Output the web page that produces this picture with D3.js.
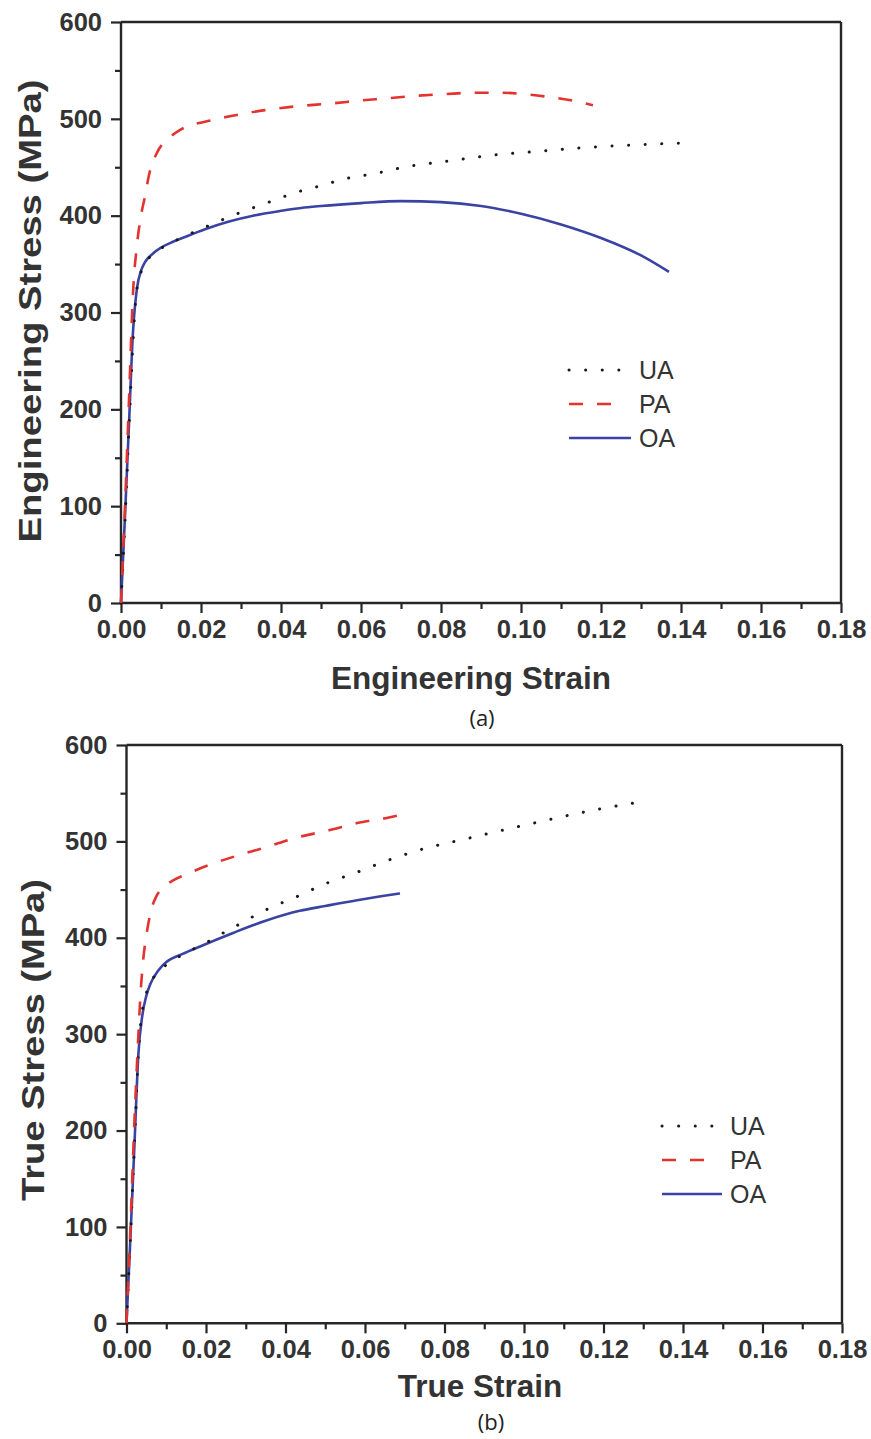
<!DOCTYPE html>
<html>
<head>
<meta charset="utf-8">
<script src="https://cdn.jsdelivr.net/npm/d3@7"></script>
<style>
  html, body { margin: 0; padding: 0; background: #fff; }
  svg { display: block; }
</style>
</head>
<body>
<svg id="chart" width="871" height="1439" font-family="Liberation Sans, Arial, sans-serif"></svg>
<script>
// ---------- DATA ----------
const xTicks = [0, 0.02, 0.04, 0.06, 0.08, 0.10, 0.12, 0.14, 0.16, 0.18];
const yTicks = [0, 100, 200, 300, 400, 500, 600];
const seriesNames = ["UA", "PA", "OA"];

// (a) engineering
const engUAStrain = [0, 0.001, 0.002, 0.003, 0.004, 0.006, 0.01, 0.015, 0.021, 0.026, 0.031, 0.035, 0.039, 0.043, 0.05, 0.056, 0.064, 0.072, 0.081, 0.094, 0.103, 0.115, 0.128, 0.141];
const engUAStress = [0, 85, 180, 270, 325, 350, 366, 377, 388, 397, 405, 411, 417, 423, 431, 438, 444, 451, 456, 463, 466, 470, 473, 475];
const engPAStrain = [0, 0.001, 0.002, 0.003, 0.004, 0.005, 0.006, 0.007, 0.009, 0.012, 0.015, 0.022, 0.029, 0.036, 0.044, 0.053, 0.06, 0.066, 0.073, 0.081, 0.088, 0.095, 0.101, 0.108, 0.114, 0.118];
const engPAStress = [0, 100, 210, 320, 370, 400, 420, 442, 465, 480, 489, 498, 504, 509, 513, 516, 519, 521, 523.5, 525.5, 527, 527, 525.5, 522, 518, 514];
const engOAStrain = [0, 0.001, 0.002, 0.003, 0.004, 0.005, 0.006, 0.008, 0.01, 0.013, 0.016, 0.021, 0.027, 0.033, 0.04, 0.045, 0.05, 0.06, 0.07, 0.08, 0.09, 0.1, 0.11, 0.12, 0.13, 0.137];
const engOAStress = [0, 90, 185, 280, 325, 343, 352, 361, 367, 373, 378, 386, 394, 400, 405, 408, 410, 413, 415, 414, 410, 402, 391, 377, 359, 342];

// (b) true
const trueUAStrain = [0, 0.001, 0.002, 0.003, 0.004, 0.006, 0.01, 0.0139, 0.021, 0.0252, 0.0293, 0.0336, 0.0378, 0.0419, 0.05, 0.058, 0.0662, 0.0745, 0.0858, 0.094, 0.1025, 0.11, 0.1195, 0.128];
const trueUAStress = [0, 90, 185, 280, 325, 352, 372, 382, 397, 407, 416, 426, 434, 441, 456, 468, 481, 492, 503, 511, 519, 526, 534, 540];
const truePAStrain = [0, 0.001, 0.002, 0.003, 0.0035, 0.0042, 0.0051, 0.0063, 0.0075, 0.0092, 0.0115, 0.0151, 0.0218, 0.0285, 0.0352, 0.0419, 0.0514, 0.058, 0.0663, 0.0685];
const truePAStress = [0, 100, 210, 300, 340, 377, 405, 430, 443, 452, 459, 466, 477, 486, 494, 503, 512, 519, 525, 527];
const trueOAStrain = [0, 0.001, 0.002, 0.003, 0.004, 0.005, 0.006, 0.008, 0.0101, 0.014, 0.0185, 0.0268, 0.0352, 0.0436, 0.05, 0.058, 0.064, 0.0688];
const trueOAStress = [0, 90, 185, 280, 320, 340, 352, 366, 375, 383, 391, 405, 418, 428, 433, 439, 443, 446];

// ---------- STYLE ----------
const styles = {
  UA: { color: "#1a1a1a", width: 3, dash: "0.1,16.5", cap: "round" },
  PA: { color: "#e3332f", width: 2.6, dash: "14,14", cap: "butt" },
  OA: { color: "#3a43a3", width: 2.6, dash: null, cap: "butt" }
};

const svg = d3.select("#chart");
svg.append("rect").attr("width", 871).attr("height", 1439).attr("fill", "#fff");

function zip(a, b) { return a.map((v, i) => [v, b[i]]); }

function drawPanel(cfg) {
  const g = svg.append("g");
  const x = d3.scaleLinear().domain([0, 0.18]).range([cfg.left, cfg.right]);
  const y = d3.scaleLinear().domain([0, 600]).range([cfg.bottom, cfg.top]);
  const axisColor = "#262626";
  const labelColor = "#333";

  g.append("line").attr("x1", cfg.left).attr("x2", cfg.right).attr("y1", cfg.top).attr("y2", cfg.top)
    .attr("stroke", axisColor).attr("stroke-width", 2.4);
  g.append("line").attr("x1", cfg.right).attr("x2", cfg.right).attr("y1", cfg.top).attr("y2", cfg.bottom)
    .attr("stroke", axisColor).attr("stroke-width", 2.4);

  const xMinor = d3.range(0.01, 0.18, 0.02);
  const yMinor = d3.range(50, 600, 100);
  const xAxisMinor = d3.axisBottom(x).tickValues(xMinor).tickSize(6).tickFormat("");
  const yAxisMinor = d3.axisLeft(y).tickValues(yMinor).tickSize(6).tickFormat("");
  g.append("g").attr("transform", `translate(0,${cfg.bottom})`).call(xAxisMinor)
    .call(s => s.select(".domain").remove())
    .selectAll("line").attr("stroke", axisColor).attr("stroke-width", 2.2);
  g.append("g").attr("transform", `translate(${cfg.left},0)`).call(yAxisMinor)
    .call(s => s.select(".domain").remove())
    .selectAll("line").attr("stroke", axisColor).attr("stroke-width", 2.2);

  const xAxis = d3.axisBottom(x).tickValues(xTicks).tickSize(10).tickPadding(7).tickFormat(d3.format(".2f"));
  const yAxis = d3.axisLeft(y).tickValues(yTicks).tickSize(10).tickPadding(9).tickFormat(d3.format("d"));
  const gx = g.append("g").attr("transform", `translate(0,${cfg.bottom})`).call(xAxis);
  gx.select(".domain").attr("stroke", axisColor).attr("stroke-width", 2.4).attr("d", `M${cfg.left},0H${cfg.right}`);
  gx.selectAll("line").attr("stroke", axisColor).attr("stroke-width", 2.2);
  gx.selectAll("text").attr("fill", labelColor).attr("font-size", 25.5).attr("font-weight", "bold")
    .attr("font-family", "Liberation Sans, Arial, sans-serif");
  const gy = g.append("g").attr("transform", `translate(${cfg.left},0)`).call(yAxis);
  gy.select(".domain").attr("stroke", axisColor).attr("stroke-width", 2.4).attr("d", `M0,${cfg.bottom}V${cfg.top}`);
  gy.selectAll("line").attr("stroke", axisColor).attr("stroke-width", 2.2);
  gy.selectAll("text").attr("fill", labelColor).attr("font-size", 25.5).attr("font-weight", "bold")
    .attr("font-family", "Liberation Sans, Arial, sans-serif");

  const line = d3.line().x(d => x(d[0])).y(d => y(d[1])).curve(d3.curveMonotoneX);
  const data = { UA: cfg.UA, PA: cfg.PA, OA: cfg.OA };
  ["OA", "UA", "PA"].forEach(k => {
    const st = styles[k];
    const p = g.append("path").datum(data[k]).attr("d", line)
      .attr("fill", "none").attr("stroke", st.color).attr("stroke-width", st.width)
      .attr("stroke-linecap", st.cap).attr("stroke-linejoin", "round");
    if (st.dash) p.attr("stroke-dasharray", st.dash);
  });

  g.append("text").attr("x", (cfg.xTitleX)).attr("y", cfg.xTitleY)
    .attr("text-anchor", "middle").attr("font-size", 31.5).attr("font-weight", "bold").attr("fill", labelColor)
    .text(cfg.xTitle);
  g.append("text").attr("transform", `translate(${cfg.yTitleX},${cfg.yTitleY}) rotate(-90)`)
    .attr("text-anchor", "middle").attr("font-size", 32).attr("font-weight", "bold").attr("fill", labelColor)
    .attr("textLength", cfg.yTitleLen).attr("lengthAdjust", "spacingAndGlyphs")
    .text(cfg.yTitle);

  seriesNames.forEach((k, i) => {
    const st = styles[k];
    const ly = cfg.legY + i * cfg.legStep;
    const l = g.append("line").attr("x1", cfg.legX).attr("x2", cfg.legX + (k === "OA" ? cfg.legLen + 8 : cfg.legLen))
      .attr("y1", ly).attr("y2", ly)
      .attr("stroke", st.color).attr("stroke-width", st.width).attr("stroke-linecap", st.cap);
    if (st.dash) l.attr("stroke-dasharray", st.dash);
    g.append("text").attr("x", cfg.legX + cfg.legLen + 16).attr("y", ly).attr("dy", "0.36em")
      .attr("font-size", 25).attr("fill", labelColor).text(k);
  });

  g.append("text").attr("x", cfg.tagX).attr("y", cfg.tagY).attr("text-anchor", "middle")
    .attr("font-size", 22).attr("fill", "#222").attr("font-family", "Open Sans, Liberation Sans, sans-serif")
    .text(cfg.tag);
}

drawPanel({
  left: 121, right: 841, top: 22, bottom: 603,
  UA: zip(engUAStrain, engUAStress), PA: zip(engPAStrain, engPAStress), OA: zip(engOAStrain, engOAStress),
  xTitle: "Engineering Strain", xTitleX: 471, xTitleY: 689,
  yTitle: "Engineering Stress (MPa)", yTitleX: 41, yTitleY: 311, yTitleLen: 463,
  legX: 569, legY: 370, legStep: 34, legLen: 54,
  tag: "(a)", tagX: 482, tagY: 726
});

drawPanel({
  left: 126.5, right: 842, top: 745, bottom: 1323.3,
  UA: zip(trueUAStrain, trueUAStress), PA: zip(truePAStrain, truePAStress), OA: zip(trueOAStrain, trueOAStress),
  xTitle: "True Strain", xTitleX: 480, xTitleY: 1397,
  yTitle: "True Stress (MPa)", yTitleX: 44, yTitleY: 1040, yTitleLen: 322,
  legX: 662, legY: 1126, legStep: 34, legLen: 52,
  tag: "(b)", tagX: 491, tagY: 1430
});
</script>
</body>
</html>
